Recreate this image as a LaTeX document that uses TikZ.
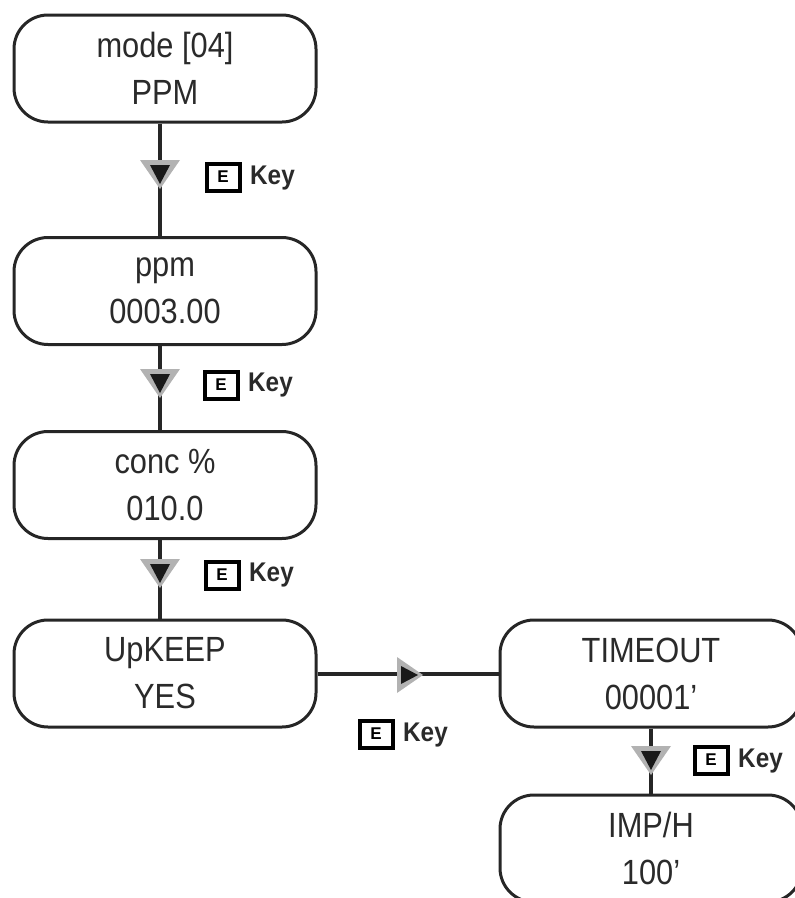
\documentclass[tikz,border=0pt]{standalone}
\usepackage{fontspec}
\setmainfont{Liberation Sans}
\newfontfamily\boxfont{Liberation Sans}[FakeStretch=0.88]
\newfontfamily\keyfont{Liberation Sans}[FakeStretch=0.9]
\usetikzlibrary{positioning}
\definecolor{txt}{HTML}{2A2A2A}
\tikzset{
  stbox/.style={draw=black!85, line width=3pt, rounded corners=34pt, minimum width=302pt, minimum height=107pt, inner sep=0pt, align=center, text=txt, font=\boxfont\fontsize{35}{47}\selectfont},
  conn/.style={draw=black!85, line width=4pt},
  keyicon/.style={draw=black, line width=4pt, fill=white, minimum width=33pt, minimum height=27pt, inner sep=0pt, font=\fontsize{17}{17}\selectfont\bfseries},
  keytext/.style={text=txt, font=\keyfont\fontsize{27}{27}\selectfont\bfseries, inner sep=0pt, anchor=west},
  downtri/.pic={\fill[gray!60] (-20,-15)--(20,-15)--(0,14)--cycle; \fill[black!90] (-10,-10)--(10,-10)--(0,9)--cycle;},
  righttri/.pic={\fill[gray!60] (-13,-18)--(-13,18)--(13,0)--cycle; \fill[black!90] (-9,-9)--(-9,9)--(8,0)--cycle;}
}
\begin{document}
\begin{tikzpicture}[x=1pt,y=-1pt]
\useasboundingbox (0,0) rectangle (795,898);
\coordinate (cx) at (160,0);
\coordinate (cy) at (651,0);
\begin{scope}
\clip (0,0) rectangle (795,898);
\node[stbox] (b1) at (165,68.5) {mode [04]\\PPM};
\node[stbox] (b2) at (165,291) {ppm\\0003.00};
\node[stbox] (b3) at (165,485) {conc \%\\010.0};
\node[stbox] (b4) at (165,673.5) {UpKEEP\\YES};
\node[stbox] (b5) at (651,673.5) {TIMEOUT\\00001’};
\node[stbox] (b6) at (651,848.5) {IMP/H\\100’};
\draw[conn] (b1.south -| cx) -- (b2.north -| cx);
\draw[conn] (b2.south -| cx) -- (b3.north -| cx);
\draw[conn] (b3.south -| cx) -- (b4.north -| cx);
\draw[conn] (b4.east) -- (b5.west);
\draw[conn] (b5.south -| cy) -- (b6.north -| cy);
\end{scope}
\pic at (160,175) {downtri};
\pic at (160,384) {downtri};
\pic at (160,574) {downtri};
\pic at (410,675) {righttri};
\pic at (651,761) {downtri};
\node[keyicon] (k1) at (223,177) {E};
\node[keytext] (t1) at (250,178) {Key};
\node[keyicon] (k2) at (221,385) {E};
\node[keytext] (t2) at (248,385) {Key};
\node[keyicon] (k3) at (222,575) {E};
\node[keytext] (t3) at (249,575) {Key};
\node[keyicon] (k4) at (376,734) {E};
\node[keytext] (t4) at (403,735) {Key};
\node[keyicon] (k5) at (711,760) {E};
\node[keytext] (t5) at (738,761) {Key};
\end{tikzpicture}
\end{document}
